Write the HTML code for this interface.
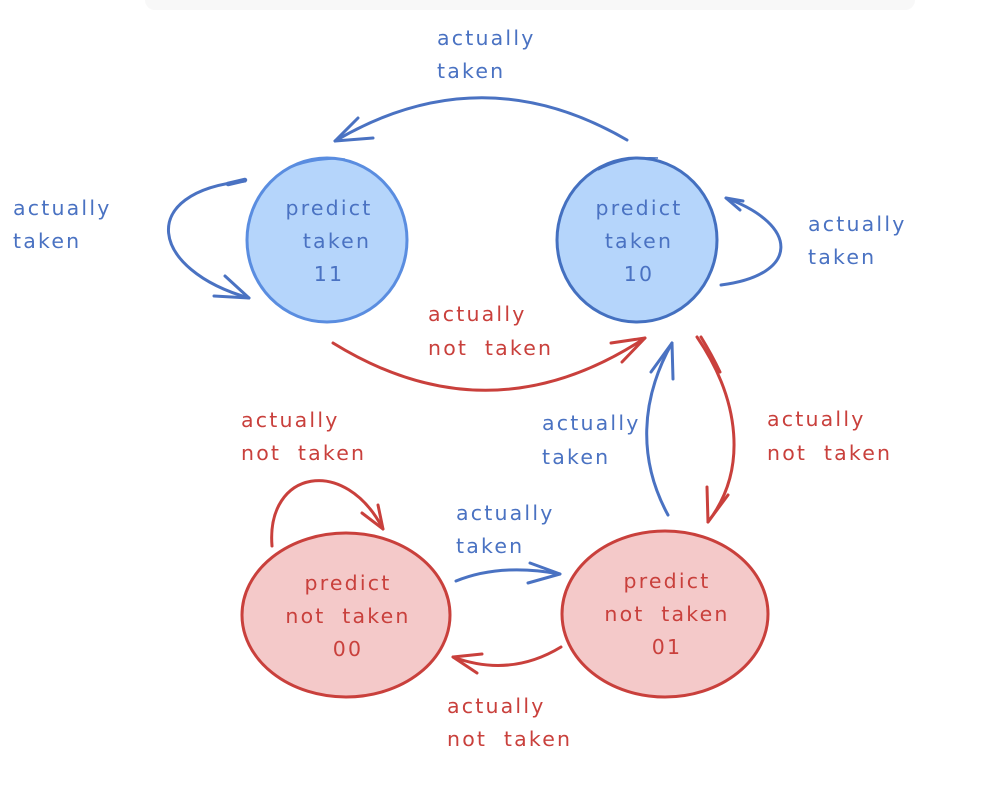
<!DOCTYPE html>
<html>
<head>
<meta charset="utf-8">
<style>
  html, body { margin: 0; padding: 0; background: #ffffff; }
  body { width: 1003px; height: 787px; overflow: hidden; }
  svg { display: block; }
  text { font-family: "DejaVu Sans", "Liberation Sans", sans-serif; font-size: 20.5px; letter-spacing: 2.2px; word-spacing: 8px; }
  .b { fill: #4a72c2; }
  .r { fill: #c9403c; }
  .bs { stroke: #4a72c2; fill: none; stroke-width: 3; stroke-linecap: round; stroke-linejoin: round; }
  .rs { stroke: #c9403c; fill: none; stroke-width: 3; stroke-linecap: round; stroke-linejoin: round; }
</style>
</head>
<body>
<svg width="1003" height="787" viewBox="0 0 1003 787" xmlns="http://www.w3.org/2000/svg">
  <!-- faint top bar -->
  <rect x="145" y="-10" width="770" height="20" rx="10" fill="#f8f8f8"/>

  <!-- Nodes -->
  <ellipse cx="327" cy="240" rx="80" ry="82" fill="#b5d5fb" stroke="#5a8de0" stroke-width="3"/>
  <path d="M285,170 Q310,158 345,159" fill="none" stroke="#5a8de0" stroke-width="1.5"/>
  <ellipse cx="637" cy="240" rx="80" ry="82" fill="#b5d5fb" stroke="#4470c0" stroke-width="3"/>
  <path d="M598,170 Q625,156 658,158" fill="none" stroke="#4470c0" stroke-width="1.5"/>
  <ellipse cx="346" cy="615" rx="104" ry="82" fill="#f4c9c9" stroke="#c9403c" stroke-width="3"/>
  <ellipse cx="665" cy="614" rx="103" ry="83" fill="#f4c9c9" stroke="#c9403c" stroke-width="3"/>

  <!-- Node labels -->
  <text class="b" x="329" y="215" text-anchor="middle">predict</text>
  <text class="b" x="337" y="248" text-anchor="middle">taken</text>
  <text class="b" x="329" y="281" text-anchor="middle">11</text>

  <text class="b" x="639" y="215" text-anchor="middle">predict</text>
  <text class="b" x="639" y="248" text-anchor="middle">taken</text>
  <text class="b" x="639" y="281" text-anchor="middle">10</text>

  <text class="r" x="348" y="590" text-anchor="middle">predict</text>
  <text class="r" x="348" y="623" text-anchor="middle">not taken</text>
  <text class="r" x="348" y="656" text-anchor="middle">00</text>

  <text class="r" x="667" y="588" text-anchor="middle">predict</text>
  <text class="r" x="667" y="621" text-anchor="middle">not taken</text>
  <text class="r" x="667" y="654" text-anchor="middle">01</text>

  <!-- Arrow: 10 -> 11 (top) -->
  <path class="bs" d="M627,140 Q481,55 335,141"/>
  <polyline class="bs" points="358,118 335,141 373,138"/>

  <!-- Arrow: self loop 11 -->
  <path class="bs" d="M245,181 C135,192 150,270 249,298" />
  <path d="M245,180 L228,184" stroke="#4a72c2" stroke-width="4.5" stroke-linecap="round"/>
  <polyline class="bs" points="225,276 249,298 214,296"/>

  <!-- Arrow: self loop 10 -->
  <path class="bs" d="M721,285 C800,275 800,225 726,198"/>
  <polyline class="bs" points="740,210 726,198 743,201"/>

  <!-- Arrow: 11 -> 10 (red) -->
  <path class="rs" d="M333,343 Q490,440 645,338"/>
  <polyline class="rs" points="611,343 645,338 622,362"/>

  <!-- Arrow: 01 -> 10 (blue up) -->
  <path class="bs" d="M668,515 C638,460 640,400 672,343"/>
  <polyline class="bs" points="651,372 672,343 673,379"/>

  <!-- Arrow: 10 -> 01 (red down) -->
  <path class="rs" d="M697,337 C740,400 748,470 708,522"/>
  <path class="rs" d="M701,337 Q712,355 720,372" stroke-width="1.5"/>
  <polyline class="rs" points="707,487 708,522 728,495"/>

  <!-- Arrow: self loop 00 -->
  <path class="rs" d="M272,546 C266,470 345,455 383,529"/>
  <polyline class="rs" points="362,513 383,529 378,505"/>

  <!-- Arrow: 00 -> 01 (blue) -->
  <path class="bs" d="M456,581 Q500,563 560,574" stroke-width="4"/>
  <polyline class="bs" points="530,563 560,574 528,583"/>

  <!-- Arrow: 01 -> 00 (red) -->
  <path class="rs" d="M561,647 Q510,678 453,657" stroke-width="3.5"/>
  <polyline class="rs" points="482,654 453,657 477,673"/>

  <!-- Edge labels -->
  <text class="b" x="437" y="45">actually</text>
  <text class="b" x="437" y="78">taken</text>

  <text class="b" x="13" y="215">actually</text>
  <text class="b" x="13" y="248">taken</text>

  <text class="b" x="808" y="231">actually</text>
  <text class="b" x="808" y="264">taken</text>

  <text class="r" x="428" y="321">actually</text>
  <text class="r" x="428" y="355">not taken</text>

  <text class="b" x="542" y="430">actually</text>
  <text class="b" x="542" y="464">taken</text>

  <text class="r" x="767" y="426">actually</text>
  <text class="r" x="767" y="460">not taken</text>

  <text class="r" x="241" y="427">actually</text>
  <text class="r" x="241" y="460">not taken</text>

  <text class="b" x="456" y="520">actually</text>
  <text class="b" x="456" y="553">taken</text>

  <text class="r" x="447" y="713">actually</text>
  <text class="r" x="447" y="746">not taken</text>
</svg>
</body>
</html>
